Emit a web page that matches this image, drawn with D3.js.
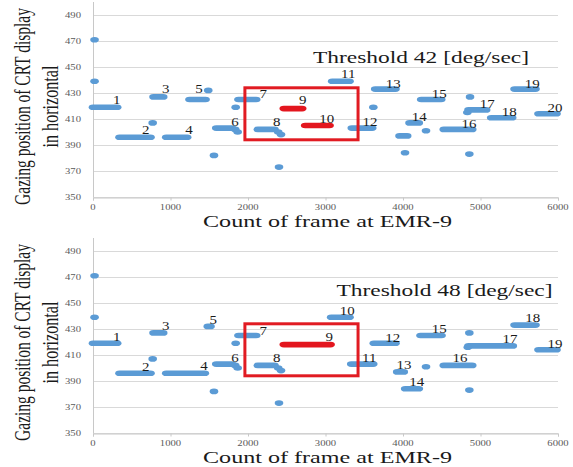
<!DOCTYPE html>
<html><head><meta charset="utf-8">
<script src="https://cdn.jsdelivr.net/npm/d3@7"></script>
<style>body{margin:0;background:#fff}svg{display:block}</style>
</head><body>
<svg id="c" width="573" height="467"></svg>
<script>
// ---------- data ----------
const xTicks = [0, 1000, 2000, 3000, 4000, 5000, 6000];
const yTicks = [350, 370, 390, 410, 430, 450, 470, 490];
const xDomain = [0, 6000];
const yDomain = [350, 500];

// Threshold 42 [deg/sec] : fixation runs [gaze, frameStart, frameEnd]
const runs42 = [
  [419, 0, 312], [396, 342, 742], [427, 781, 906], [396, 945, 1215],
  [425, 1245, 1452], [403, 1590, 1795], [425, 1877, 2106], [402, 2127, 2342],
  [439, 3086, 3310], [403, 3339, 3603], [433, 3641, 3903], [397, 3955, 4054],
  [407, 4084, 4204], [425, 4235, 4493], [402, 4526, 4893], [417, 4845, 5073],
  [411, 5138, 5409], [433, 5439, 5710], [414, 5748, 5981]
];
const red42 = [[418, 2462, 2699], [405, 2738, 3052]];
const dots42 = [
  [20, 471], [20, 439], [770, 407], [1487, 432], [1561, 382], [1835, 402],
  [1867, 400], [1841, 419], [2390, 400], [2426, 398], [2400, 373], [3617, 419],
  [4026, 384], [4297, 401], [4865, 427], [4856, 383], [4830, 415]
];
const labels42 = [
  ["1", 306, 424.6], ["2", 680, 401.5], ["3", 938, 432.8], ["4", 1239, 401.5],
  ["5", 1368, 432.8], ["6", 1832, 407.9], ["7", 2197, 429], ["8", 2370, 407.9],
  ["9", 2706, 424.6], ["10", 3015, 409.8], ["11", 3294, 444.6], ["12", 3574, 407.9],
  ["13", 3875, 436.9], ["14", 4210, 411.8], ["15", 4468, 429.2], ["16", 4852, 406.2],
  ["17", 5088, 421.5], ["18", 5372, 415.6], ["19", 5668, 436.9], ["20", 5961, 418.2]
];
const box42 = [1960, 3420, 394, 434];

// Threshold 48 [deg/sec]
const runs48 = [
  [419, 0, 312], [396, 342, 742], [427, 781, 906], [396, 945, 1443],
  [432, 1481, 1516], [403, 1590, 1795], [425, 1877, 2106], [402, 2127, 2342],
  [439, 3073, 3310], [403, 3332, 3616], [419, 3623, 3903], [397, 3925, 4010],
  [384, 4028, 4204], [425, 4226, 4497], [402, 4526, 4893], [417, 4845, 5417],
  [433, 5439, 5710], [414, 5748, 5981]
];
const red48 = [[418, 2462, 3065]];
const dots48 = [
  [20, 471], [20, 439], [770, 407], [1561, 382], [1835, 402], [1867, 400],
  [1841, 419], [2390, 400], [2426, 398], [2400, 373], [4297, 401],
  [4856, 427], [4856, 383], [4836, 416]
];
const labels48 = [
  ["1", 306, 424.1], ["2", 680, 401], ["3", 938, 432.3], ["4", 1432, 401.5],
  ["5", 1552, 436.9], ["6", 1832, 407.9], ["7", 2197, 428.7], ["8", 2370, 407.5],
  ["9", 3049, 424.1], ["10", 3281, 444.1], ["11", 3565, 407.9], ["12", 3867, 423.3],
  ["13", 4013, 402.3], ["14", 4177, 389], ["15", 4468, 429.8], ["16", 4735, 407.9],
  ["17", 5381, 422.1], ["18", 5674, 438.2], ["19", 5961, 418.5]
];
const box48 = [1960, 3420, 394, 434];

const panels = [
  {title: "Threshold 42 [deg/sec]", runs: runs42, red: red42, dots: dots42, labels: labels42, box: box42, off: 0},
  {title: "Threshold 48 [deg/sec]", runs: runs48, red: red48, dots: dots48, labels: labels48, box: box48, off: 236}
];

// ---------- drawing ----------
const svg = d3.select("#c");
const BLUE = "#5b9bd5", RED = "#e3161e", BOXRED = "#e11b22";
const SERIF = "'Liberation Serif','Times New Roman',serif";
const STRETCH = 1.42;
function stretch(sel, f) {
  sel.each(function () {
    const L = this.getComputedTextLength();
    d3.select(this).attr("textLength", L * f).attr("lengthAdjust", "spacingAndGlyphs");
  });
}

panels.forEach((p, idx) => {
  const x = d3.scaleLinear().domain(xDomain).range([93, 558]);
  const y = d3.scaleLinear().domain(yDomain).range([197 + p.off, 2 + p.off]);
  const g = svg.append("g");

  // gridlines
  g.append("g").selectAll("line").data(yTicks).join("line")
    .attr("x1", x(0)).attr("x2", x(6000))
    .attr("y1", d => Math.round(y(d)) + 0.5).attr("y2", d => Math.round(y(d)) + 0.5)
    .attr("stroke", "#d9d9d9").attr("stroke-width", 1);

  // left axis line
  g.append("line").attr("x1", Math.round(x(0)) + 0.5).attr("x2", Math.round(x(0)) + 0.5)
    .attr("y1", y(500)).attr("y2", y(350)).attr("stroke", "#c8c8c8");
  // bottom axis ticks
  const xa = d3.axisBottom(x).tickValues(xTicks).tickSize(3).tickFormat("");
  const ax = g.append("g").attr("transform", `translate(0,${Math.round(y(350)) + 0.5})`).call(xa);
  ax.select(".domain").attr("stroke", "#c8c8c8");
  ax.selectAll(".tick line").attr("stroke", "#c8c8c8");

  // tick labels
  const xl = g.append("g").selectAll("text").data(xTicks).join("text")
    .attr("x", d => x(d)).attr("y", y(350) + 13)
    .attr("text-anchor", "middle").attr("font-family", SERIF).attr("font-size", 7.5)
    .attr("fill", "#595959").text(d => d);
  stretch(xl, STRETCH);
  const yl = g.append("g").selectAll("text").data(yTicks).join("text")
    .attr("x", 81).attr("y", d => y(d)).attr("dy", "0.35em")
    .attr("text-anchor", "end").attr("font-family", SERIF).attr("font-size", 7.5)
    .attr("fill", "#595959").text(d => d);
  stretch(yl, STRETCH);

  // fixation runs (blue)
  const H = 5.6, R = 4.3;
  g.append("g").selectAll("rect").data(p.runs).join("rect")
    .attr("x", d => x(d[1]) - R).attr("width", d => x(d[2]) - x(d[1]) + 2 * R)
    .attr("y", d => y(d[0]) - H / 2).attr("height", H)
    .attr("rx", R).attr("ry", H / 2).attr("fill", BLUE);
  g.append("g").selectAll("ellipse").data(p.dots).join("ellipse")
    .attr("cx", d => x(d[0])).attr("cy", d => y(d[1]))
    .attr("rx", R).attr("ry", H / 2).attr("fill", BLUE);
  g.append("g").selectAll("rect").data(p.red).join("rect")
    .attr("x", d => x(d[1]) - R).attr("width", d => x(d[2]) - x(d[1]) + 2 * R)
    .attr("y", d => y(d[0]) - H / 2).attr("height", H)
    .attr("rx", R).attr("ry", H / 2).attr("fill", RED);

  // highlight box
  const b = p.box;
  g.append("rect").attr("x", x(b[0])).attr("y", y(b[3]))
    .attr("width", x(b[1]) - x(b[0])).attr("height", y(b[2]) - y(b[3]))
    .attr("fill", "none").attr("stroke", BOXRED).attr("stroke-width", 3);

  // number labels
  const nl = g.append("g").selectAll("text").data(p.labels).join("text")
    .attr("x", d => x(d[1])).attr("y", d => y(d[2])).attr("dy", "0.35em")
    .attr("text-anchor", "middle").attr("font-family", SERIF).attr("font-size", 11.5)
    .attr("fill", "#1a1a1a").text(d => d[0]);
  stretch(nl, 1.3);

  // panel title
  g.append("text").attr("x", idx === 0 ? 421 : 444.5).attr("y", 63 + p.off - (idx === 0 ? 0 : 3))
    .attr("text-anchor", "middle").attr("font-family", SERIF).attr("font-size", 17)
    .attr("fill", "#1a1a1a").attr("textLength", 216).attr("lengthAdjust", "spacingAndGlyphs")
    .text(p.title);

  // x axis title
  g.append("text").attr("x", 327.5).attr("y", 227 + p.off)
    .attr("text-anchor", "middle").attr("font-family", SERIF).attr("font-size", 16.5)
    .attr("fill", "#1a1a1a").attr("textLength", 249).attr("lengthAdjust", "spacingAndGlyphs")
    .text("Count of frame at EMR-9");

  // y axis title (two lines), condensed along the text direction
  const cy = 106.5 + p.off;
  const t1 = g.append("text").attr("text-anchor", "middle").attr("font-family", SERIF)
    .attr("font-size", 23).attr("fill", "#1a1a1a").text("Gazing position of CRT display");
  const k1 = 197 / t1.node().getComputedTextLength();
  t1.attr("transform", `translate(30,${cy}) rotate(-90) scale(${k1},1)`);
  const t2 = g.append("text").attr("text-anchor", "middle").attr("font-family", SERIF)
    .attr("font-size", 23).attr("fill", "#1a1a1a").text("in horizontal");
  const k2 = 82 / t2.node().getComputedTextLength();
  t2.attr("transform", `translate(57.5,${cy}) rotate(-90) scale(${k2},1)`);
});
</script>
</body></html>
